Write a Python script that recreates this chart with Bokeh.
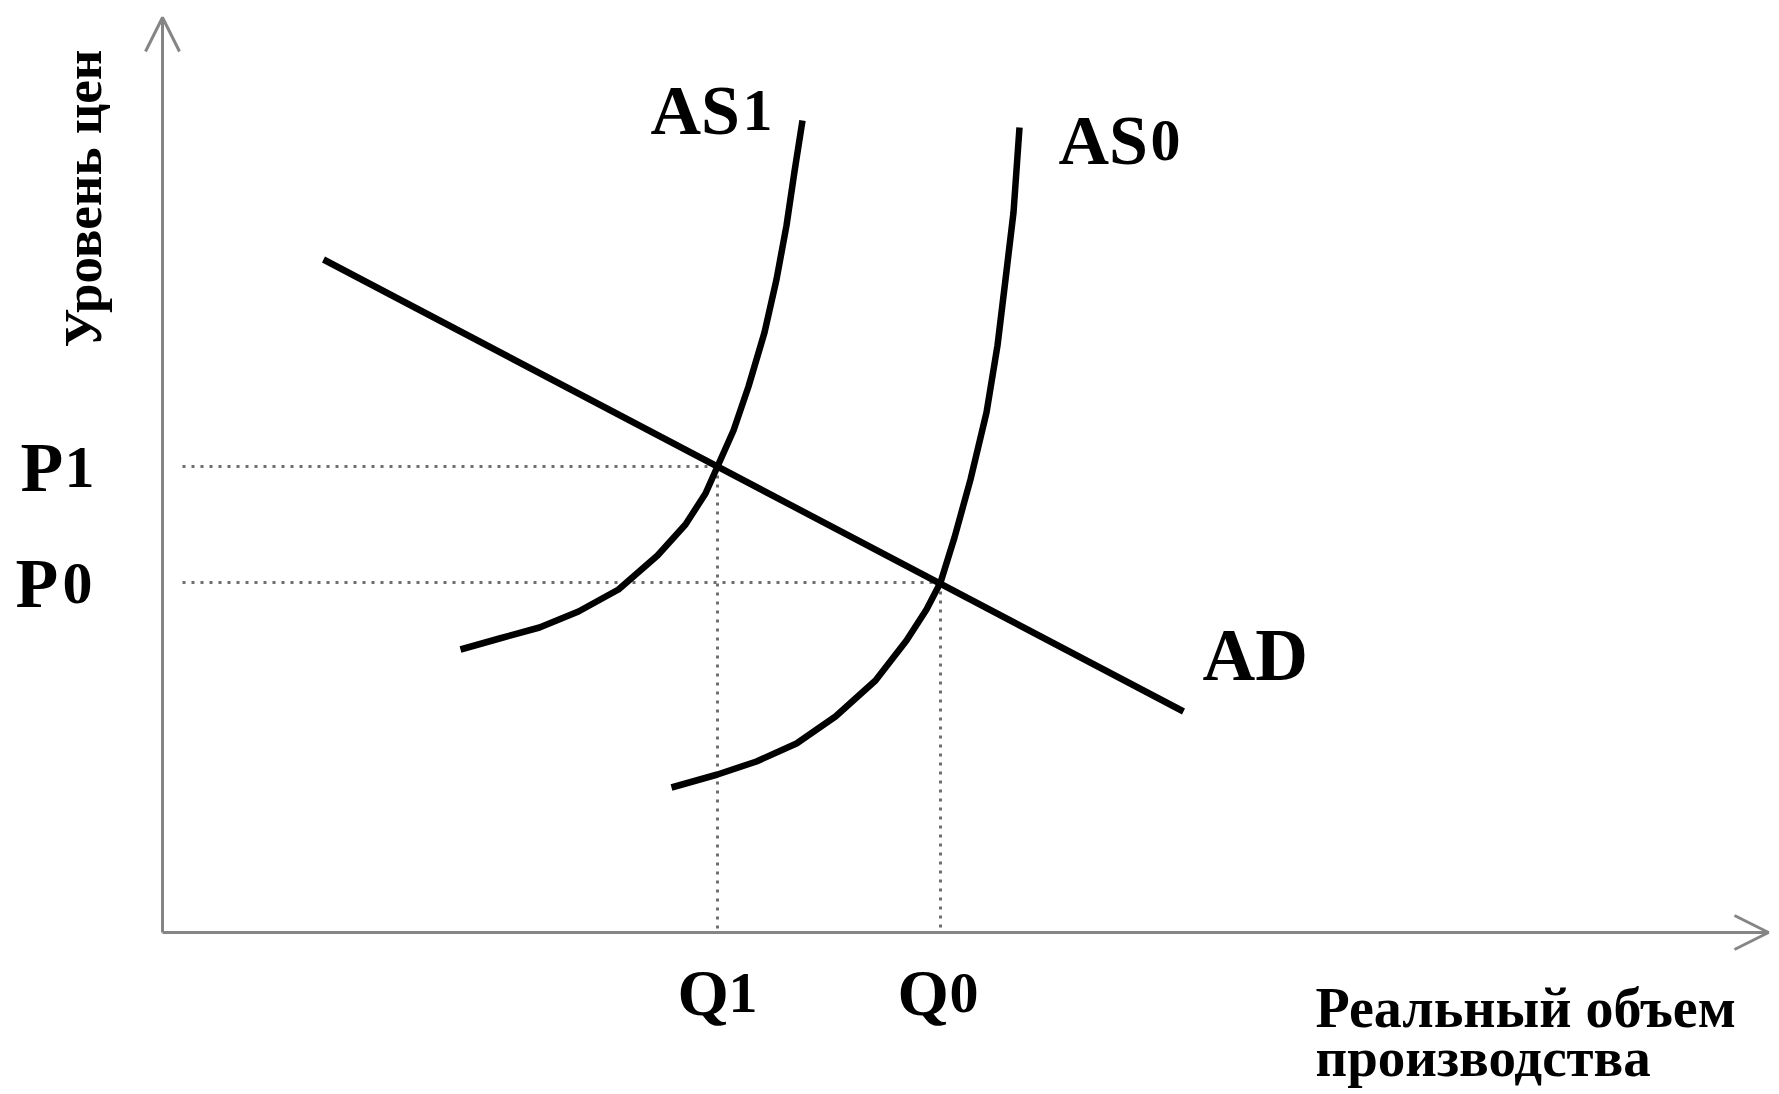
from bokeh.plotting import figure
from bokeh.models import Range1d, Arrow, OpenHead
from bokeh.core.properties import value
from bokeh.embed import file_html
from bokeh.resources import INLINE
import math

# ---- data (arbitrary units, origin at axes corner) ----
ad_q = [1.61, 10.21]
ad_p = [6.73, 2.21]

as1_q = [2.98, 3.37, 3.77, 4.16, 4.56, 4.95, 5.23, 5.43, 5.55, 5.71, 5.86, 6.02, 6.14, 6.24, 6.32, 6.40]
as1_p = [2.83, 2.94, 3.05, 3.21, 3.43, 3.77, 4.08, 4.39, 4.66, 5.02, 5.46, 6.00, 6.53, 7.07, 7.61, 8.12]

as0_q = [5.09, 5.55, 5.94, 6.34, 6.73, 7.13, 7.44, 7.64, 7.78, 7.92, 8.08, 8.24, 8.35, 8.43, 8.51, 8.57]
as0_p = [1.45, 1.58, 1.71, 1.89, 2.16, 2.52, 2.92, 3.23, 3.50, 3.95, 4.53, 5.20, 5.87, 6.53, 7.20, 8.05]

eq_q = [5.55, 7.78]      # Q1, Q0
eq_p = [4.66, 3.50]      # P1, P0

q_labels = ["Q", "Q"]
q_subs = ["1", "0"]
p_labels = ["P", "P"]
p_subs = ["1", "0"]
curve_labels = ["AS", "AS", "AD"]
curve_subs = ["1", "0"]
x_title = ["Реальный объем", "производства"]
y_title = "Уровень цен"

FONT = value("Liberation Serif")

p = figure(width=1779, height=1094, output_backend="svg", toolbar_location=None,
           x_axis_type=None, y_axis_type=None,
           x_range=Range1d(-1.62, 16.17), y_range=Range1d(-1.62, 9.32),
           min_border=0, outline_line_color=None, background_fill_color="white")
p.grid.visible = False

# axes with open arrow heads
axis_col = "#858585"
p.add_layout(Arrow(x_start=0, y_start=0, x_end=16.06, y_end=0,
                   line_color=axis_col, line_width=3,
                   end=OpenHead(size=34, line_color=axis_col, line_width=3)))
p.add_layout(Arrow(x_start=0, y_start=0, x_end=0, y_end=9.15,
                   line_color=axis_col, line_width=3,
                   end=OpenHead(size=34, line_color=axis_col, line_width=3)))

# dotted guide lines
dot_col = "#6e6e6e"
p.segment(x0=[0.2, 0.2], y0=eq_p, x1=eq_q, y1=eq_p,
          line_color=dot_col, line_width=3, line_dash="3 6")
p.segment(x0=eq_q, y0=eq_p, x1=eq_q, y1=[0, 0],
          line_color=dot_col, line_width=3, line_dash="3 6")

# curves
p.line(ad_q, ad_p, line_color="black", line_width=6.5)
p.line(as1_q, as1_p, line_color="black", line_width=6.5, line_join="round")
p.line(as0_q, as0_p, line_color="black", line_width=6.5, line_join="round")

# curve labels
main_kw = dict(text_font=FONT, text_font_style="bold", text_color="black",
               text_align="left", text_baseline="alphabetic")
p.text(x=[4.88, 8.96], y=[8.22, 7.92], text=curve_labels[:2],
       text_font_size="70px", **main_kw)
p.text(x=[10.40], y=[2.77], text=curve_labels[2:],
       text_font_size="73px", **main_kw)
p.text(x=[5.80, 9.88], y=[8.22, 7.92], text=curve_subs,
       text_font_size="60px", **main_kw)

# P labels
p.text(x=[-1.42, -1.47], y=[4.65, 3.49], text=p_labels, text_font_size="70px", **main_kw)
p.text(x=[-0.98, -1.00], y=[4.65, 3.49], text=p_subs, text_font_size="60px", **main_kw)

# Q labels
p.text(x=[5.15, 7.35], y=[-0.60, -0.60], text=q_labels, text_font_size="66px", **main_kw)
p.text(x=[5.66, 7.87], y=[-0.60, -0.60], text=q_subs, text_font_size="58px", **main_kw)

# axis titles
p.text(x=[11.53], y=[-0.75], text=x_title[:1], text_font_size="56px", **main_kw)
p.text(x=[11.53], y=[-1.25], text=x_title[1:], text_font_size="55px", **main_kw)
p.text(x=[-0.80], y=[5.85], text=[y_title], angle=math.pi / 2,
       text_font_size="53px", **main_kw)

open("out.html", "w").write(file_html(p, INLINE))
